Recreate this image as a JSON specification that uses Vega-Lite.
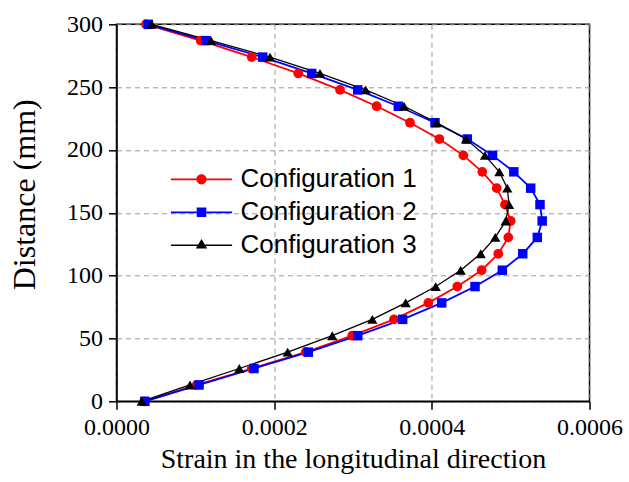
{
  "$schema": "https://vega.github.io/schema/vega-lite/v6.json",
  "width": 473,
  "height": 377,
  "autosize": "none",
  "padding": {"left": 116.5, "top": 24.3, "right": 39.5, "bottom": 80.5},
  "background": "white",
  "datasets": {
    "strain": [
      {"series": "Configuration 1", "d": 0, "strain": 0.0000353},
      {"series": "Configuration 1", "d": 13.0, "strain": 0.0001017},
      {"series": "Configuration 1", "d": 26.1, "strain": 0.0001715},
      {"series": "Configuration 1", "d": 39.1, "strain": 0.000240},
      {"series": "Configuration 1", "d": 52.2, "strain": 0.000299},
      {"series": "Configuration 1", "d": 65.2, "strain": 0.000352},
      {"series": "Configuration 1", "d": 78.3, "strain": 0.0003955},
      {"series": "Configuration 1", "d": 91.3, "strain": 0.0004323},
      {"series": "Configuration 1", "d": 104.3, "strain": 0.0004632},
      {"series": "Configuration 1", "d": 117.4, "strain": 0.0004843},
      {"series": "Configuration 1", "d": 130.4, "strain": 0.000497},
      {"series": "Configuration 1", "d": 143.5, "strain": 0.000500},
      {"series": "Configuration 1", "d": 156.5, "strain": 0.0004928},
      {"series": "Configuration 1", "d": 169.6, "strain": 0.0004823},
      {"series": "Configuration 1", "d": 182.6, "strain": 0.000464},
      {"series": "Configuration 1", "d": 195.7, "strain": 0.000440},
      {"series": "Configuration 1", "d": 208.7, "strain": 0.0004095},
      {"series": "Configuration 1", "d": 221.7, "strain": 0.0003723},
      {"series": "Configuration 1", "d": 234.8, "strain": 0.000330},
      {"series": "Configuration 1", "d": 247.8, "strain": 0.0002835},
      {"series": "Configuration 1", "d": 260.9, "strain": 0.0002306},
      {"series": "Configuration 1", "d": 273.9, "strain": 0.0001715},
      {"series": "Configuration 1", "d": 287.0, "strain": 0.0001068},
      {"series": "Configuration 1", "d": 300, "strain": 0.0000374},
      {"series": "Configuration 2", "d": 0, "strain": 0.000036},
      {"series": "Configuration 2", "d": 13.0, "strain": 0.0001047},
      {"series": "Configuration 2", "d": 26.1, "strain": 0.0001744},
      {"series": "Configuration 2", "d": 39.1, "strain": 0.0002433},
      {"series": "Configuration 2", "d": 52.2, "strain": 0.000306},
      {"series": "Configuration 2", "d": 65.2, "strain": 0.000363},
      {"series": "Configuration 2", "d": 78.3, "strain": 0.0004125},
      {"series": "Configuration 2", "d": 91.3, "strain": 0.0004548},
      {"series": "Configuration 2", "d": 104.3, "strain": 0.0004894},
      {"series": "Configuration 2", "d": 117.4, "strain": 0.0005153},
      {"series": "Configuration 2", "d": 130.4, "strain": 0.0005338},
      {"series": "Configuration 2", "d": 143.5, "strain": 0.000540},
      {"series": "Configuration 2", "d": 156.5, "strain": 0.0005372},
      {"series": "Configuration 2", "d": 169.6, "strain": 0.0005254},
      {"series": "Configuration 2", "d": 182.6, "strain": 0.000504},
      {"series": "Configuration 2", "d": 195.7, "strain": 0.000477},
      {"series": "Configuration 2", "d": 208.7, "strain": 0.000445},
      {"series": "Configuration 2", "d": 221.7, "strain": 0.000404},
      {"series": "Configuration 2", "d": 234.8, "strain": 0.0003575},
      {"series": "Configuration 2", "d": 247.8, "strain": 0.000306},
      {"series": "Configuration 2", "d": 260.9, "strain": 0.0002476},
      {"series": "Configuration 2", "d": 273.9, "strain": 0.0001855},
      {"series": "Configuration 2", "d": 287.0, "strain": 0.0001135},
      {"series": "Configuration 2", "d": 300, "strain": 0.0000404},
      {"series": "Configuration 3", "d": 0, "strain": 0.000032},
      {"series": "Configuration 3", "d": 13.0, "strain": 0.0000932},
      {"series": "Configuration 3", "d": 26.1, "strain": 0.0001558},
      {"series": "Configuration 3", "d": 39.1, "strain": 0.0002171},
      {"series": "Configuration 3", "d": 52.2, "strain": 0.0002737},
      {"series": "Configuration 3", "d": 65.2, "strain": 0.0003245},
      {"series": "Configuration 3", "d": 78.3, "strain": 0.0003668},
      {"series": "Configuration 3", "d": 91.3, "strain": 0.0004049},
      {"series": "Configuration 3", "d": 104.3, "strain": 0.0004366},
      {"series": "Configuration 3", "d": 117.4, "strain": 0.000462},
      {"series": "Configuration 3", "d": 130.4, "strain": 0.0004805},
      {"series": "Configuration 3", "d": 143.5, "strain": 0.0004937},
      {"series": "Configuration 3", "d": 156.5, "strain": 0.000498},
      {"series": "Configuration 3", "d": 169.6, "strain": 0.0004957},
      {"series": "Configuration 3", "d": 182.6, "strain": 0.0004856},
      {"series": "Configuration 3", "d": 195.7, "strain": 0.0004674},
      {"series": "Configuration 3", "d": 208.7, "strain": 0.0004433},
      {"series": "Configuration 3", "d": 221.7, "strain": 0.000406},
      {"series": "Configuration 3", "d": 234.8, "strain": 0.0003647},
      {"series": "Configuration 3", "d": 247.8, "strain": 0.000316},
      {"series": "Configuration 3", "d": 260.9, "strain": 0.0002581},
      {"series": "Configuration 3", "d": 273.9, "strain": 0.0001947},
      {"series": "Configuration 3", "d": 287.0, "strain": 0.0001199},
      {"series": "Configuration 3", "d": 300, "strain": 0.0000446}
    ]
  },
  "data": {"name": "strain"},
  "encoding": {
    "x": {
      "field": "strain",
      "type": "quantitative",
      "scale": {"domain": [0, 0.0006], "nice": false, "zero": false},
      "axis": {
        "title": "Strain in the longitudinal direction",
        "values": [0, 0.0002, 0.0004, 0.0006],
        "format": ".4f",
        "labelFlush": false,
        "labelOverlap": false,
        "labelFont": "Liberation Serif",
        "labelFontSize": 24,
        "labelColor": "black",
        "labelPadding": 6,
        "titlePadding": 6,
        "titleFont": "Liberation Serif",
        "titleFontSize": 28,
        "titleFontWeight": "normal",
        "titleColor": "black"
      }
    },
    "y": {
      "field": "d",
      "type": "quantitative",
      "scale": {"domain": [0, 300], "nice": false},
      "axis": {
        "title": "Distance (mm)",
        "values": [0, 50, 100, 150, 200, 250, 300],
        "labelFlush": false,
        "labelOverlap": false,
        "labelFont": "Liberation Serif",
        "labelFontSize": 24,
        "labelColor": "black",
        "labelPadding": 6,
        "titleFont": "Liberation Serif",
        "titleFontSize": 32,
        "titleFontWeight": "normal",
        "titleColor": "black",
        "titleAngle": -90,
        "titleAlign": "center",
        "titleBaseline": "middle",
        "titleX": -92,
        "titleY": 170
      }
    }
  },
  "layer": [
    {
      "transform": [{"filter": "datum.series === 'Configuration 1'"}],
      "mark": {"type": "line", "strokeWidth": 1.8, "color": "#ff0000"},
      "encoding": {"order": {"field": "d", "type": "quantitative"}}
    },
    {
      "transform": [{"filter": "datum.series === 'Configuration 2'"}],
      "mark": {"type": "line", "strokeWidth": 1.8, "color": "#0000ff"},
      "encoding": {"order": {"field": "d", "type": "quantitative"}}
    },
    {
      "transform": [{"filter": "datum.series === 'Configuration 3'"}],
      "mark": {"type": "line", "strokeWidth": 1.3, "color": "#000000"},
      "encoding": {"order": {"field": "d", "type": "quantitative"}}
    },
    {
      "transform": [{"filter": "datum.series === 'Configuration 1'"}],
      "mark": {"type": "point", "filled": true, "opacity": 1, "shape": "circle", "size": 95, "color": "#ff0000"}
    },
    {
      "transform": [{"filter": "datum.series === 'Configuration 2'"}],
      "mark": {"type": "point", "filled": true, "opacity": 1, "shape": "square", "size": 90, "color": "#0000ff"}
    },
    {
      "transform": [{"filter": "datum.series === 'Configuration 3'"}],
      "mark": {"type": "point", "filled": true, "opacity": 1, "shape": "triangle-up", "size": 105, "color": "#000000"}
    },
    {
      "mark": {"type": "point", "filled": true, "opacity": 0},
      "encoding": {
        "color": {
          "field": "series",
          "type": "nominal",
          "scale": {"domain": ["Configuration 1", "Configuration 2", "Configuration 3"], "range": ["#ff0000", "#0000ff", "#000000"]},
          "legend": {
            "title": null,
            "orient": "none",
            "legendX": 72,
            "legendY": 142,
            "padding": 0,
            "symbolSize": 144,
            "symbolOpacity": 1,
            "symbolStrokeWidth": 0,
            "labelOffset": 26,
            "labelFont": "Liberation Sans",
            "labelFontSize": 26,
            "labelColor": "black",
            "rowPadding": 7,
            "labelLimit": 400
          }
        },
        "shape": {
          "field": "series",
          "type": "nominal",
          "scale": {
            "domain": ["Configuration 1", "Configuration 2", "Configuration 3"],
            "range": [
              "M-5.1,-0.15H5.1V0.15H-5.1ZM0.85,0A0.85,0.85,0,1,1,-0.85,0A0.85,0.85,0,1,1,0.85,0Z",
              "M-5.1,-0.15H5.1V0.15H-5.1ZM-0.8,-0.8H0.8V0.8H-0.8Z",
              "M-5.1,-0.12H5.1V0.12H-5.1ZM0,-1.05L0.95,0.55H-0.95Z"
            ]
          },
          "legend": {
            "title": null,
            "orient": "none",
            "legendX": 72,
            "legendY": 142,
            "padding": 0,
            "symbolSize": 144,
            "symbolOpacity": 1,
            "symbolStrokeWidth": 0,
            "labelOffset": 26,
            "labelFont": "Liberation Sans",
            "labelFontSize": 26,
            "labelColor": "black",
            "rowPadding": 7,
            "labelLimit": 400
          }
        }
      }
    }
  ],
  "config": {
    "view": {"stroke": "black", "strokeWidth": 1.5},
    "axis": {
      "domainColor": "black",
      "domainWidth": 1.5,
      "tickColor": "black",
      "tickWidth": 1.5,
      "tickSize": 8,
      "grid": true,
      "gridColor": "#9a9a9a",
      "gridDash": [5, 4],
      "gridWidth": 1
    }
  }
}
